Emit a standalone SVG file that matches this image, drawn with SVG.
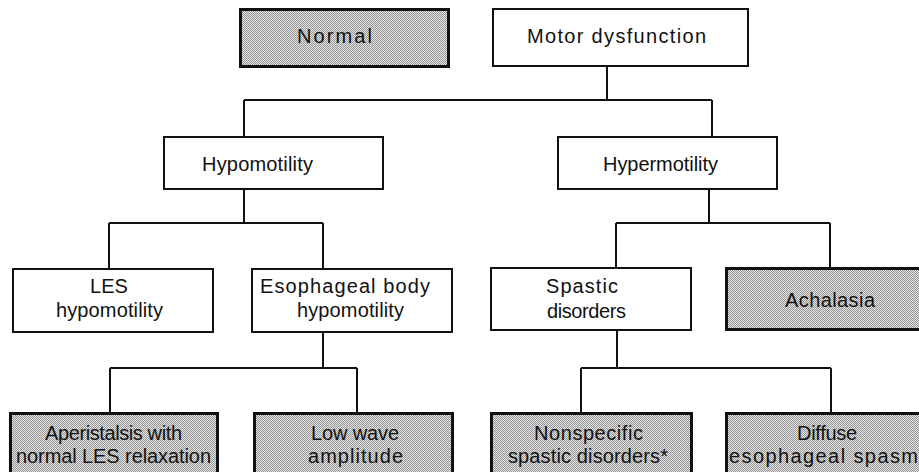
<svg xmlns="http://www.w3.org/2000/svg" width="919" height="472" viewBox="0 0 919 472">
<defs>
<pattern id="dots" x="0" y="0" width="2" height="2" patternUnits="userSpaceOnUse">
<rect x="0" y="0" width="2" height="2" fill="#e6e6e6"/>
<rect x="0" y="0" width="1" height="1" fill="#949494"/>
<rect x="1" y="1" width="1" height="1" fill="#949494"/>
</pattern>
</defs>
<style>
.box{fill:#fff;stroke:#111;stroke-width:2}
.sh{fill:url(#dots);stroke:#111;stroke-width:3}
.t{font-family:"Liberation Sans",Arial,sans-serif;font-size:20px;fill:#111}
.m{text-anchor:middle}
.c{fill:none;stroke:#111;stroke-width:2}
</style>
<rect width="919" height="472" fill="#fff"/>
<g id="connectors">
<path class="c" d="M607 66V100M244 100H712M244 100V137M712 100V137"/>
<path class="c" d="M244 189V223M109 223H323M109 223V269M323 223V269"/>
<path class="c" d="M709 189V223M616 223H830M616 223V268M830 223V268"/>
<path class="c" d="M323 332V368M110 368H357M110 368V413M357 368V413"/>
<path class="c" d="M617 330V368M581 368H831M581 368V413M831 368V413"/>
</g>
<g id="normal">
<rect class="sh" x="240.5" y="9.5" width="208" height="57"/>
<text class="t" x="297" y="43" textLength="75">Normal</text>
</g>
<g id="motor">
<rect class="box" x="493" y="9" width="255" height="57"/>
<text class="t" x="527" y="43" textLength="179">Motor dysfunction</text>
</g>
<g id="hypomotility">
<rect class="box" x="164" y="137" width="219" height="52"/>
<text class="t" x="202" y="171" textLength="111">Hypomotility</text>
</g>
<g id="hypermotility">
<rect class="box" x="558" y="137" width="219" height="52"/>
<text class="t" x="603" y="171" textLength="115">Hypermotility</text>
</g>
<g id="les">
<rect class="box" x="13" y="269" width="200" height="63"/>
<text class="t m" x="109" y="293">LES</text>
<text class="t" x="56" y="317" textLength="107">hypomotility</text>
</g>
<g id="esobody">
<rect class="box" x="252" y="269" width="200" height="63"/>
<text class="t" x="260" y="293" textLength="170">Esophageal body</text>
<text class="t" x="297" y="317" textLength="107">hypomotility</text>
</g>
<g id="spastic">
<rect class="box" x="491" y="268" width="200" height="62"/>
<text class="t" x="546" y="293" textLength="72">Spastic</text>
<text class="t" x="547" y="318" textLength="79">disorders</text>
</g>
<g id="achalasia">
<rect class="sh" x="726.5" y="268.5" width="200" height="61"/>
<text class="t" x="785" y="307" textLength="90">Achalasia</text>
</g>
<g id="aperistalsis">
<rect class="sh" x="10.5" y="413.5" width="207" height="70"/>
<text class="t" x="45" y="440" textLength="137">Aperistalsis with</text>
<text class="t" x="16" y="463" textLength="195">normal LES relaxation</text>
</g>
<g id="lowwave">
<rect class="sh" x="254.5" y="413.5" width="198" height="70"/>
<text class="t" x="311" y="440" textLength="88">Low wave</text>
<text class="t" x="308" y="463" textLength="95">amplitude</text>
</g>
<g id="nonspecific">
<rect class="sh" x="491.5" y="413.5" width="200" height="70"/>
<text class="t" x="534" y="440" textLength="109">Nonspecific</text>
<text class="t" x="508" y="463" textLength="160">spastic disorders*</text>
</g>
<g id="diffuse">
<rect class="sh" x="726.5" y="413.5" width="200" height="70"/>
<text class="t" x="797" y="440" textLength="60">Diffuse</text>
<text class="t" x="729" y="463" textLength="189">esophageal spasm</text>
</g>
</svg>
